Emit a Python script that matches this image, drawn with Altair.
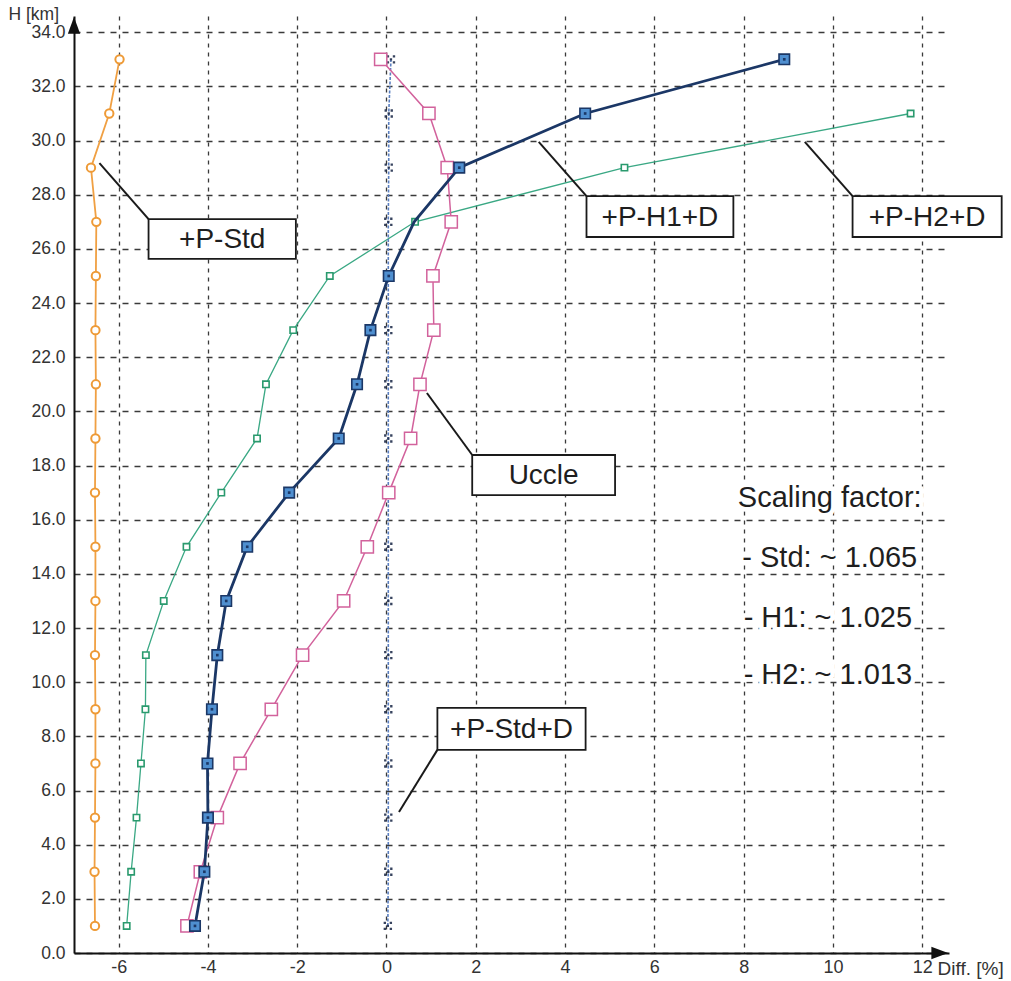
import altair as alt
import pandas as pd

# ---------------- data ----------------
HEIGHTS = [1, 3, 5, 7, 9, 11, 13, 15, 17, 19, 21, 23, 25, 27, 29, 31, 33]

P_STD = [-6.53, -6.54, -6.53, -6.52, -6.52, -6.53, -6.52, -6.52, -6.53,
         -6.52, -6.51, -6.52, -6.51, -6.50, -6.62, -6.21, -5.98]
P_H2_D = [-5.82, -5.72, -5.60, -5.50, -5.40, -5.39, -4.99, -4.48, -3.70,
          -2.90, -2.70, -2.09, -1.27, 0.64, 5.33, 11.74]          # up to 31 km
P_H1_D = [-4.29, -4.08, -4.00, -4.01, -3.91, -3.79, -3.59, -3.12, -2.18,
          -1.07, -0.66, -0.36, 0.05, 0.62, 1.63, 4.45, 8.91]
H1_NO_MARKER = [27]
UCCLE = [-4.47, -4.17, -3.79, -3.28, -2.58, -1.88, -0.96, -0.43, 0.05,
         0.54, 0.75, 1.06, 1.04, 1.45, 1.36, 0.95, -0.13]
P_STD_D = [0.03, 0.04, 0.04, 0.04, 0.04, 0.04, 0.04, 0.04, 0.04,
           0.04, 0.04, 0.04, 0.04, 0.04, 0.05, 0.05, 0.10]

X_TICKS = [-6, -4, -2, 0, 2, 4, 6, 8, 10, 12]
Y_TICKS = [0, 2, 4, 6, 8, 10, 12, 14, 16, 18, 20, 22, 24, 26, 28, 30, 32, 34]
X_DOMAIN = [-7, 12.6]
Y_DOMAIN = [0, 34.6]

BOX_LABELS = ["+P-Std", "+P-H1+D", "+P-H2+D", "Uccle", "+P-Std+D"]
BOX_X1 = [-5.33, 4.48, 10.44, 1.92, 1.14]
BOX_X2 = [-2.03, 7.77, 13.78, 5.12, 4.46]
BOX_Y1 = [25.63, 26.44, 26.44, 16.91, 7.50]
BOX_Y2 = [27.10, 27.95, 27.95, 18.39, 9.05]
LEAD_X1 = [-6.43, 3.41, 9.37, 0.905, 0.28]
LEAD_Y1 = [29.17, 29.95, 29.95, 20.68, 5.21]
LEAD_X2 = [-5.33, 4.48, 10.44, 1.92, 1.14]
LEAD_Y2 = [27.10, 27.95, 27.95, 18.39, 7.50]

NOTE_LINES = ["Scaling factor:", "- Std: ~ 1.065", "- H1: ~ 1.025", "- H2: ~ 1.013"]
NOTE_X = [7.87, 7.97, 8.0, 8.0]
NOTE_Y = [16.80, 14.59, 12.37, 10.27]

ARROW_X = [-7, 12.33]
ARROW_Y = [34.15, 0]

FONT = "Liberation Sans"
W, H = 875, 937
PAD_L, PAD_T = 74, 16

xs = alt.Scale(domain=X_DOMAIN, nice=False, zero=False)
ys = alt.Scale(domain=Y_DOMAIN, nice=False, zero=False)


def frame(vals, heights):
    return pd.DataFrame({"v": vals, "h": heights[:len(vals)]})


df_std = frame(P_STD, HEIGHTS)
df_h2 = frame(P_H2_D, HEIGHTS)
df_h1 = frame(P_H1_D, HEIGHTS)
df_h1_m = df_h1[~df_h1["h"].isin(H1_NO_MARKER)]
df_uc = frame(UCCLE, HEIGHTS)
df_sd = frame(P_STD_D, HEIGHTS)

x_axis = alt.Axis(values=X_TICKS, grid=True, gridDash=[4, 5], gridColor="#3a3a3a",
                  gridWidth=1.3, ticks=False, domain=True, domainColor="#111",
                  domainWidth=2, labelFont=FONT, labelFontSize=18, labelColor="#333",
                  labelPadding=5, labelFlush=False, labelExpr="'' + datum.value",
                  title="Diff. [%]", titleFont=FONT, titleFontSize=19,
                  titleFontWeight="normal", titleColor="#333", titleX=863, titleY=15,
                  titleAlign="left", titleBaseline="middle")
y_axis = alt.Axis(values=Y_TICKS, grid=True, gridDash=[6, 6], gridColor="#3a3a3a",
                  gridWidth=1.3, ticks=False, domain=True, domainColor="#111",
                  domainWidth=2, labelFont=FONT, labelFontSize=17.5, labelColor="#333",
                  labelPadding=9, labelFlush=False, format=".1f",
                  title="H [km]", titleFont=FONT, titleFontSize=17.5,
                  titleFontWeight="normal", titleColor="#333", titleAngle=0,
                  titleX=-66, titleY=-2, titleAlign="left", titleBaseline="middle")


def X(field):
    return alt.X(field, scale=xs, axis=x_axis)


def Y(field):
    return alt.Y(field, scale=ys, axis=y_axis)


def enc(base):
    return base.encode(x=X("v:Q"), y=Y("h:Q"), order="h:Q")


layers = []
# orange +P-Std
layers.append(enc(alt.Chart(df_std).mark_line(color="#f0a043", strokeWidth=1.8)))
layers.append(enc(alt.Chart(df_std).mark_point(shape="circle", size=70, filled=True,
                                               fill="white", stroke="#ee9a36",
                                               strokeWidth=2, opacity=1)))
# green +P-H2+D
layers.append(enc(alt.Chart(df_h2).mark_line(color="#3aa884", strokeWidth=1.3)))
layers.append(enc(alt.Chart(df_h2).mark_point(shape="square", size=40, filled=True,
                                              fill="white", stroke="#2a9a6e",
                                              strokeWidth=1.6, opacity=1)))
# +P-Std+D
layers.append(enc(alt.Chart(df_sd).mark_line(color="#5a7fc0", strokeWidth=1.6,
                                             strokeDash=[3, 1.5])))
DOTS = ("M-0.8,-0.8h0.45v0.45h-0.45z M0.35,-0.8h0.45v0.45h-0.45z "
        "M-0.225,-0.225h0.45v0.45h-0.45z M-0.8,0.35h0.45v0.45h-0.45z "
        "M0.35,0.35h0.45v0.45h-0.45z")
layers.append(enc(alt.Chart(df_sd).mark_point(shape=DOTS, size=110, filled=True,
                                              color="#22304e", opacity=0.9)))
# pink Uccle
layers.append(enc(alt.Chart(df_uc).mark_line(color="#d2629c", strokeWidth=1.5)))
layers.append(enc(alt.Chart(df_uc).mark_point(shape="square", size=150, filled=True,
                                              fill="white", stroke="#d2629c",
                                              strokeWidth=1.5, opacity=1)))
# blue +P-H1+D
layers.append(enc(alt.Chart(df_h1).mark_line(color="#1b3766", strokeWidth=2.8)))
layers.append(enc(alt.Chart(df_h1_m).mark_point(shape="square", size=110, filled=True,
                                                fill="#4f8fd0", stroke="#1b3766",
                                                strokeWidth=1.6, opacity=1)))
layers.append(enc(alt.Chart(df_h1_m).mark_point(shape="square", size=7, filled=True,
                                                color="#1b3766", opacity=1)))

# annotation boxes and leaders
df_box = pd.DataFrame({"label": BOX_LABELS, "x1": BOX_X1, "x2": BOX_X2,
                       "y1": BOX_Y1, "y2": BOX_Y2,
                       "lx1": LEAD_X1, "ly1": LEAD_Y1, "lx2": LEAD_X2, "ly2": LEAD_Y2})
df_box["cx"] = (df_box["x1"] + df_box["x2"]) / 2
df_box["cy"] = (df_box["y1"] + df_box["y2"]) / 2

layers.append(alt.Chart(df_box).mark_rule(color="#1a1a1a", strokeWidth=2).encode(
    x=X("lx1:Q"), x2="lx2:Q", y=Y("ly1:Q"), y2="ly2:Q"))
layers.append(alt.Chart(df_box).mark_rect(fill="white", stroke="#1a1a1a",
                                          strokeWidth=1.8).encode(
    x=X("x1:Q"), x2="x2:Q", y=Y("y1:Q"), y2="y2:Q"))
layers.append(alt.Chart(df_box).mark_text(font=FONT, fontSize=28, color="#1e1e1e",
                                          align="center", baseline="middle",
                                          dy=1).encode(
    x=X("cx:Q"), y=Y("cy:Q"), text="label:N"))

# scaling factor notes (white halo, then text)
df_note = pd.DataFrame({"t": NOTE_LINES, "x": NOTE_X, "y": NOTE_Y})
layers.append(alt.Chart(df_note).mark_text(font=FONT, fontSize=29, color="white",
                                           stroke="white", strokeWidth=9,
                                           align="left", baseline="middle").encode(
    x=X("x:Q"), y=Y("y:Q"), text="t:N"))
layers.append(alt.Chart(df_note).mark_text(font=FONT, fontSize=29, color="#1e1e1e",
                                           align="left", baseline="middle").encode(
    x=X("x:Q"), y=Y("y:Q"), text="t:N"))

# axis arrowheads
df_arrow = pd.DataFrame({"x": ARROW_X, "y": ARROW_Y})
layers.append(alt.Chart(df_arrow.iloc[[0]]).mark_point(
    shape="M0,-1L0.55,0.5L-0.55,0.5Z", size=500, filled=True, color="#111",
    opacity=1).encode(x=X("x:Q"), y=Y("y:Q")))
layers.append(alt.Chart(df_arrow.iloc[[1]]).mark_point(
    shape="M1,0L-0.5,0.55L-0.5,-0.55Z", size=500, filled=True, color="#111",
    opacity=1).encode(x=X("x:Q"), y=Y("y:Q")))

chart = alt.layer(*layers).properties(
    width=W, height=H,
    autosize=alt.AutoSizeParams(type="none"),
    padding={"left": PAD_L, "top": PAD_T, "right": 1011 - PAD_L - W,
             "bottom": 981 - PAD_T - H},
    background="white",
).configure_view(stroke=None)

chart.save("out.html", embed_options={"renderer": "svg", "actions": False})
